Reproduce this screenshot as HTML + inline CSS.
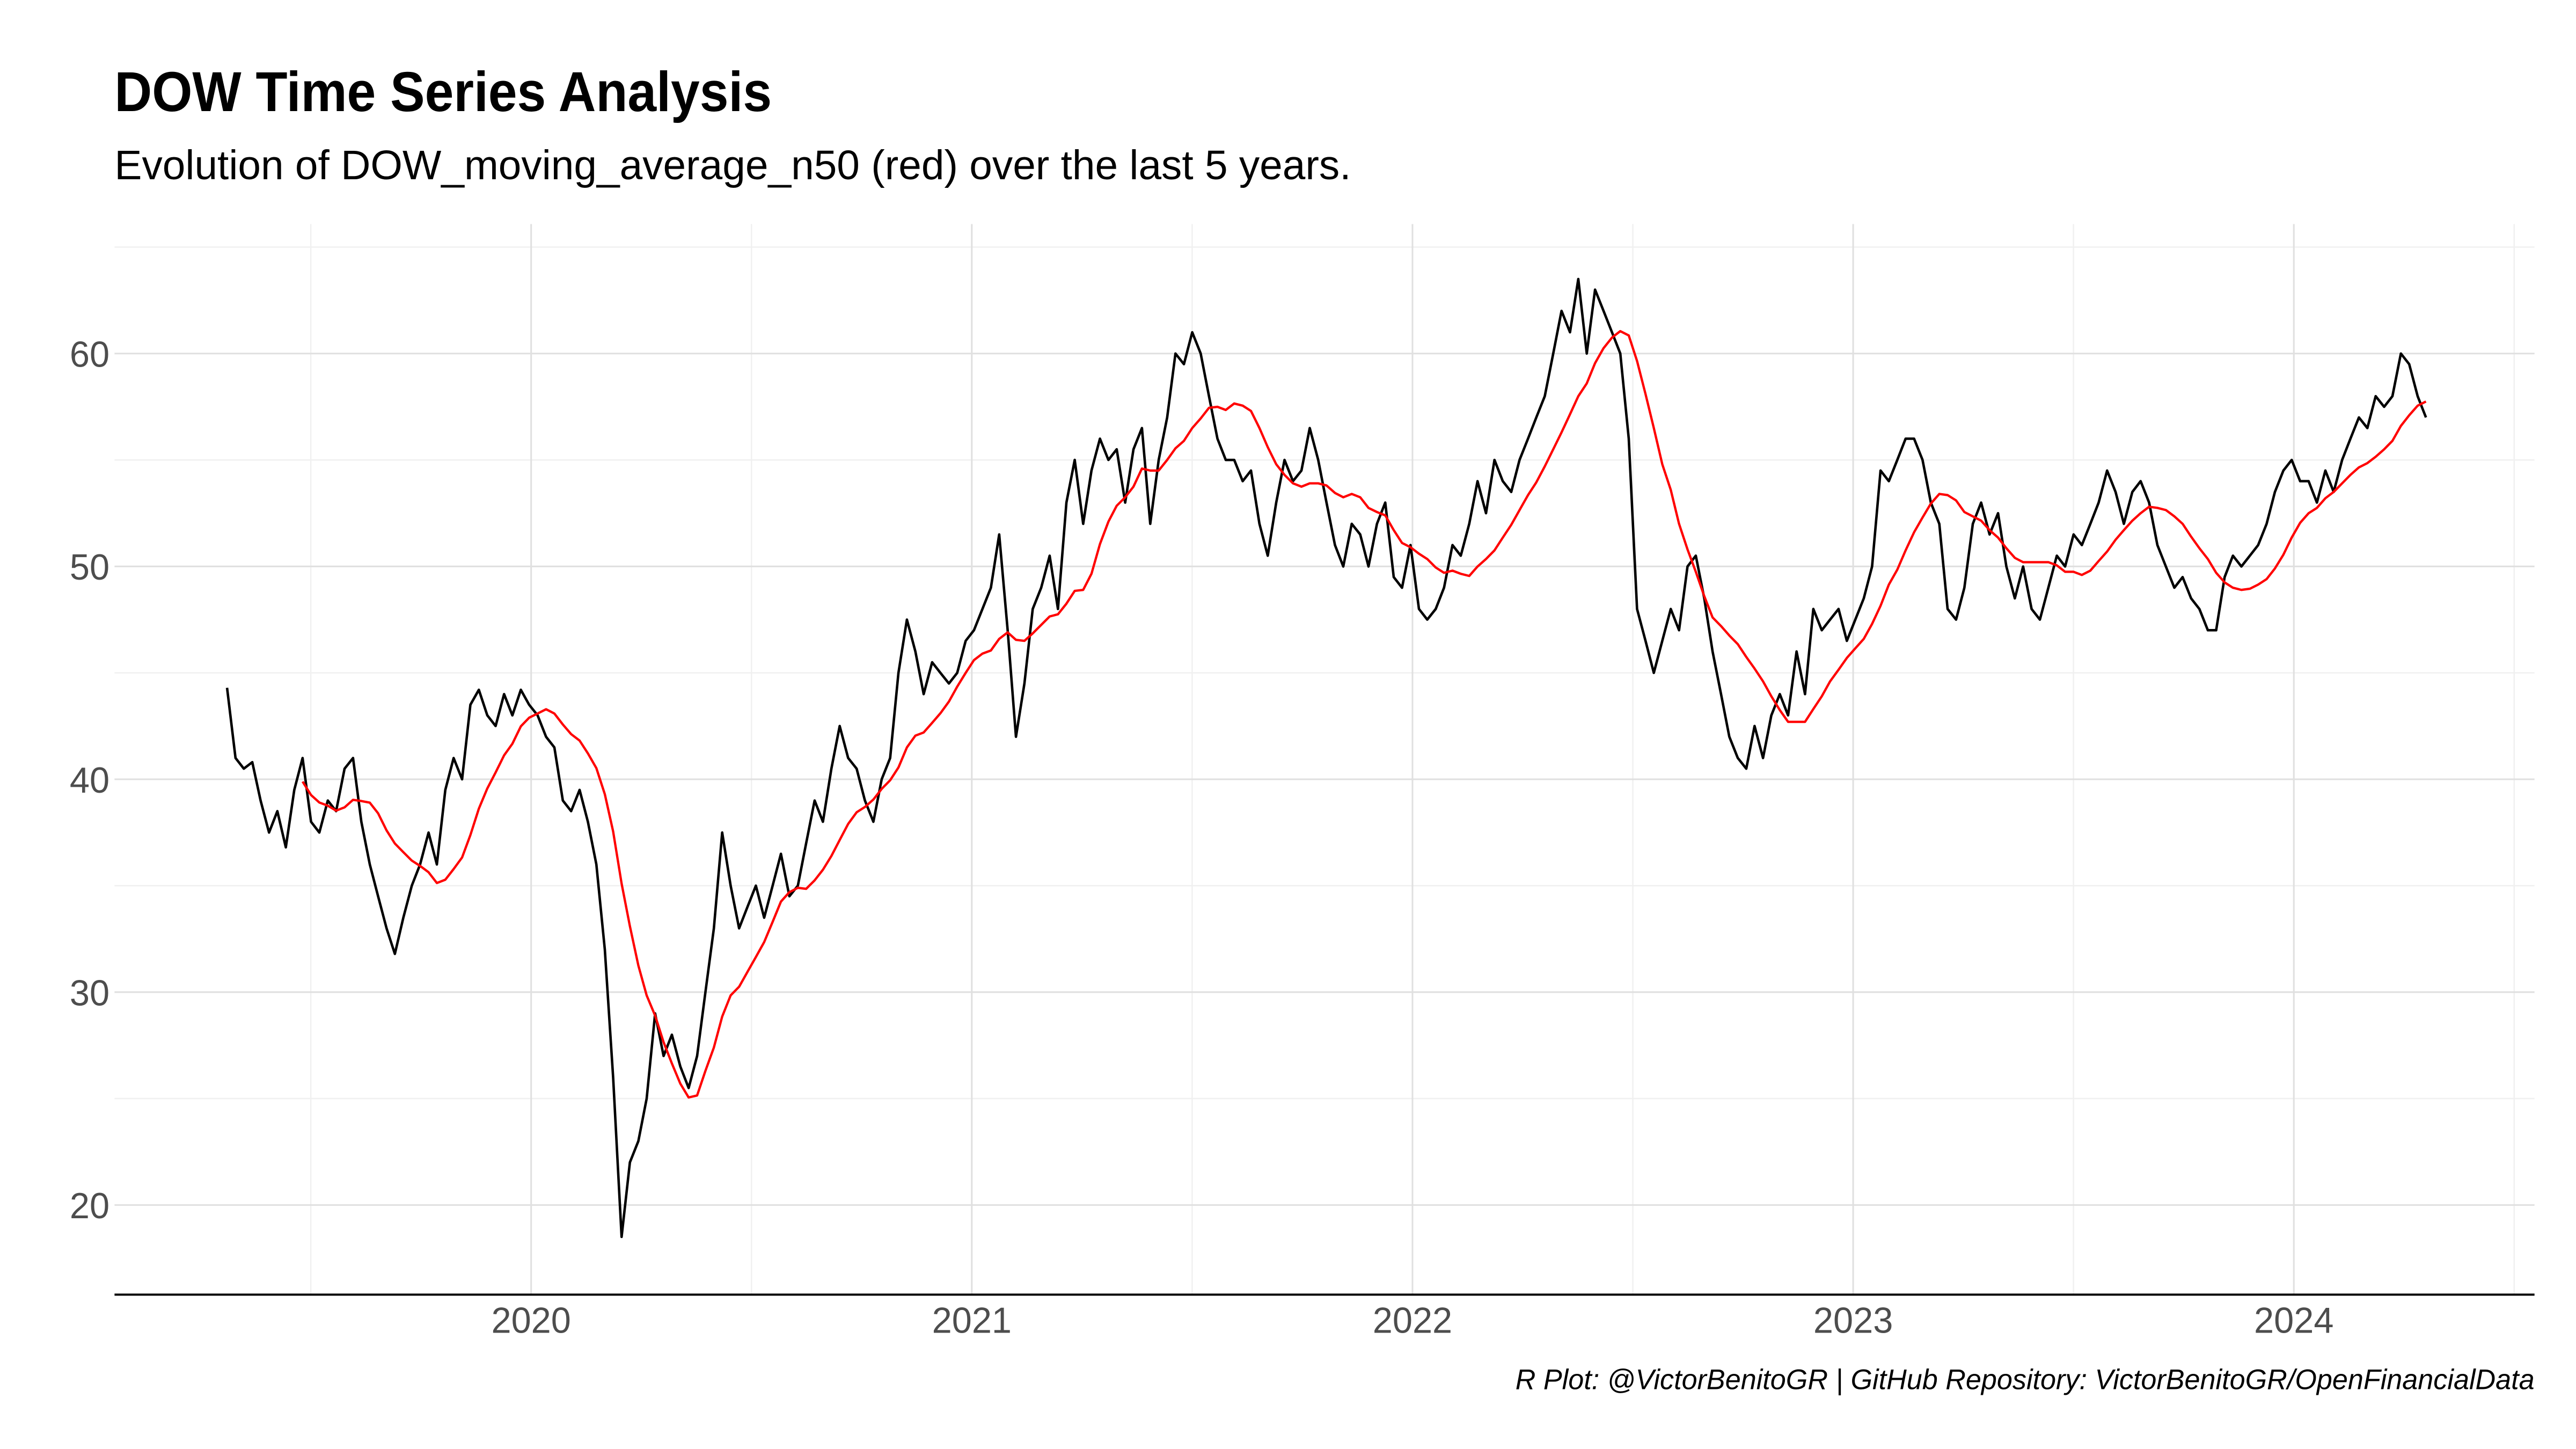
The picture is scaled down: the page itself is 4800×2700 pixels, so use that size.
<!DOCTYPE html>
<html><head><meta charset="utf-8"><style>
html,body{margin:0;padding:0;background:#fff;}
svg{display:block;}
text{font-family:"Liberation Sans Narrow","Liberation Sans",sans-serif;}
</style></head><body>
<svg id="chart" width="4800" height="2700" viewBox="0 0 1552 873" xmlns="http://www.w3.org/2000/svg">
<rect width="1552" height="873" fill="#fff"/>
<text x="69" y="67" font-size="34" font-weight="bold" fill="#000" textLength="396" lengthAdjust="spacingAndGlyphs">DOW Time Series Analysis</text>
<text x="69" y="108" font-size="25" fill="#000" textLength="745" lengthAdjust="spacingAndGlyphs">Evolution of DOW_moving_average_n50  (red) over the last 5 years.</text>
<g id="grid"></g>
<g id="ticks"></g>
<g id="series"></g>
<line x1="69" y1="780" x2="1527" y2="780" stroke="#000" stroke-width="1.3"/>
<text x="913" y="837" font-size="17" font-style="italic" fill="#000" textLength="614" lengthAdjust="spacingAndGlyphs">R Plot: @VictorBenitoGR | GitHub Repository:  VictorBenitoGR/OpenFinancialData</text>
</svg>
<script>
const startYear = 2019.31;
const values2019 = [44.3,41,40.5,40.8,39,37.5,38.5,36.8,39.5,41,38,37.5,39,38.5,40.5,41,38,36,34.5,33,31.8,33.5,35,36,37.5,36,39.5,41,40,43.5,44.2,43,42.5,44,43,44.2];
const values2020 = [43.5,43,42,41.5,39,38.5,39.5,38,36,32,26,18.5,22,23,25,29,27,28,26.5,25.5,27,30,33,37.5,35,33,34,35,33.5,35,36.5,34.5,35,37,39,38,40.5,42.5,41,40.5,39,38,40,41,45,47.5,46,44,45.5,45,44.5,45,46.5,47,48,49];
const values2021 = [51.5,47,42,44.5,48,49,50.5,48,53,55,52,54.5,56,55,55.5,53,55.5,56.5,52,55,57,60,59.5,61,60,58,56,55,55,54,54.5,52,50.5,53,55,54,54.5,56.5,55,53,51,50,52,51.5,50,52,53,49.5,49,51,48,47.5];
const values2022 = [48,49,51,50.5,52,54,52.5,55,54,53.5,55,56,57,58,60,62,61,63.5,60,63,62,61,60,56,48,46.5,45,46.5,48,47,50,50.5,48.5,46,44,42,41,40.5,42.5,41,43,44,43,46,44,48,47,47.5,48,46.5,47.5,48.5];
const values2023 = [50,54.5,54,55,56,56,55,53,52,48,47.5,49,52,53,51.5,52.5,50,48.5,50,48,47.5,49,50.5,50,51.5,51,52,53,54.5,53.5,52,53.5,54,53,51,50,49,49.5,48.5,48,47,47,49.5,50.5,50,50.5,51,52,53.5,54.5,55,54];
const values2024 = [54,53,54.5,53.5,55,56,57,56.5,58,57.5,58,60,59.5,58,57];
const maWindow = 10;
const yTicks = [20,30,40,50,60];
const yMinor = [25,35,45,55,65];
const xTicks = [2020,2021,2022,2023,2024];
const xMinor = [2019.5,2020.5,2021.5,2022.5,2023.5,2024.5];

const NS="http://www.w3.org/2000/svg";
const X = t => 320 + (t-2020)*265.5;
const Y = v => 213 + (60-v)*12.825;
const mk=(tag,attrs,parent)=>{const e=document.createElementNS(NS,tag);for(const k in attrs)e.setAttribute(k,attrs[k]);parent.appendChild(e);return e;};
const grid=document.getElementById('grid'), ticks=document.getElementById('ticks'), series=document.getElementById('series');

yMinor.forEach(v=>{const l=mk('line',{x1:69,x2:1527,y1:Y(v),y2:Y(v),stroke:'#f0f0f0','stroke-width':0.8},grid);

});
xMinor.forEach(t=>{const l=mk('line',{x1:X(t),x2:X(t),y1:135,y2:780,stroke:'#f0f0f0','stroke-width':0.8},grid);

});
yTicks.forEach(v=>{const l=mk('line',{x1:69,x2:1527,y1:Y(v),y2:Y(v),stroke:'#e0e0e0','stroke-width':1},grid);


const t=mk('text',{x:66,y:Y(v)+8,'font-size':22,'text-anchor':'end',fill:'#4d4d4d',textLength:24,lengthAdjust:'spacingAndGlyphs'},ticks);t.textContent=v;

});
xTicks.forEach(yr=>{const l=mk('line',{x1:X(yr),x2:X(yr),y1:135,y2:780,stroke:'#e0e0e0','stroke-width':1},grid);


const t=mk('text',{x:X(yr)-24,y:803,'font-size':22,fill:'#4d4d4d',textLength:48,lengthAdjust:'spacingAndGlyphs'},ticks);t.textContent=yr;

});

const vals=[].concat(values2019,values2020,values2021,values2022,values2023,values2024);
const step=(2024.30-startYear)/(vals.length-1);
const pts=vals.map((v,i)=>X(startYear+i*step).toFixed(1)+','+Y(v).toFixed(1));
const dow=mk('polyline',{points:pts.join(' '),fill:'none',stroke:'#000','stroke-width':1.5,'stroke-linejoin':'round'},series);


const ma=[];
for(let i=maWindow-1;i<vals.length;i++){let s=0;for(let j=i-maWindow+1;j<=i;j++)s+=vals[j];ma.push(X(startYear+i*step).toFixed(1)+','+Y(s/maWindow).toFixed(1));}
const mal=mk('polyline',{points:ma.join(' '),fill:'none',stroke:'#ff0000','stroke-width':1.4,'stroke-linejoin':'round'},series);


</script>
</body></html>
